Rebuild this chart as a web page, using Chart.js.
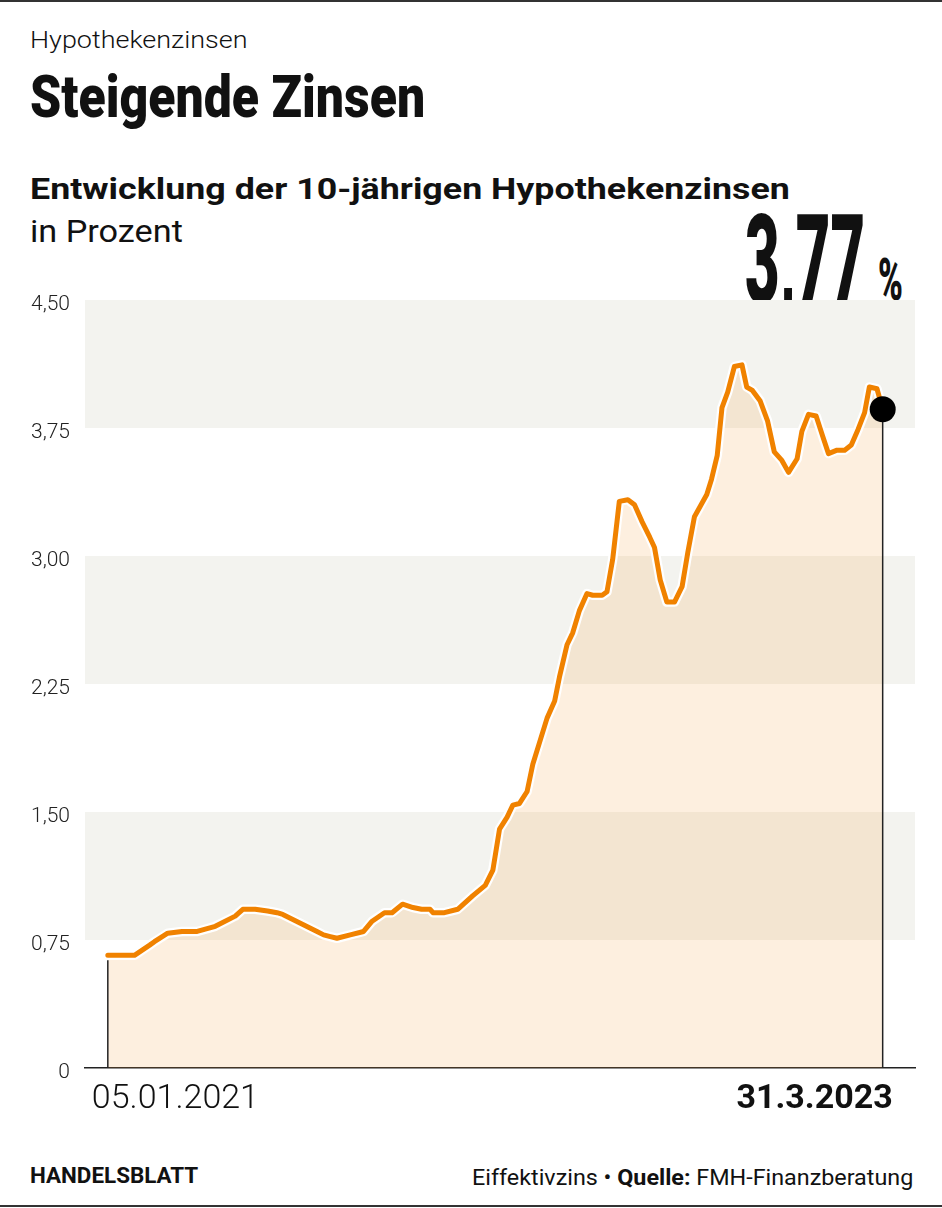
<!DOCTYPE html>
<html>
<head>
<meta charset="utf-8">
<script src="https://cdn.jsdelivr.net/npm/chart.js@4.4.0/dist/chart.umd.min.js"></script>
<style>
  html, body { margin: 0; padding: 0; background: #fff; }
  #page { position: relative; width: 942px; height: 1208px; overflow: hidden; font-family: Roboto, "Noto Sans", sans-serif; color: #111; }
  .rule { position: absolute; left: 0; width: 942px; height: 2px; background: #333; }
  .txt { position: absolute; white-space: nowrap; line-height: 1; transform-origin: 0 0; display: inline-block; }
  #chartWrap { position: absolute; left: 0; top: 280px; width: 942px; height: 860px; }
</style>
</head>
<body>
<div id="page">
  <div class="rule" style="top:0"></div>
  <span class="txt" id="kicker" style="left:30px;top:29px;font-weight:300;font-size:23px">Hypothekenzinsen</span>
  <span class="txt" id="title" style="left:30px;top:67px;font-weight:900;font-size:60px">Steigende Zinsen</span>
  <span class="txt" id="sub" style="left:30px;top:175px;font-weight:700;font-size:29px">Entwicklung der 10-jährigen Hypothekenzinsen</span>
  <span class="txt" id="unit" style="left:30px;top:215px;font-weight:400;font-size:32px">in Prozent</span>
  <span class="txt" id="big" style="left:745px;top:199px;font-weight:900;font-size:124px">3,77</span>
  <span class="txt" id="pct" style="left:878px;top:250px;font-weight:900;font-size:59px">%</span>
  <div id="chartWrap"><canvas id="chart" width="942" height="860"></canvas></div>
  <span class="txt" id="brand" style="left:30px;top:1165px;font-weight:700;font-size:22px">HANDELSBLATT</span>
  <span class="txt" id="source" style="left:472px;top:1167px;font-weight:400;font-size:22px">Eiffektivzins • <b>Quelle:</b> FMH-Finanzberatung</span>
  <div class="rule" style="top:1205px"></div>
</div>
<script>
// Tage seit 05.01.2021
const dayOffsets = [0,28,44,49,63,78,94,113,134,142,
  155,168,178,184,202,220,227,234,241,255,
  269,278,291,299,310,321,330,339,342,354,
  368,384,397,405,412,420,426,433,441,447,
  462,470,475,483,489,496,504,510,520,525,
  531,538,547,554,562,570,575,581,588,596,
  604,610,617,630,635,641,646,652,659,667,
  672,678,686,694,701,709,716,725,730,737,
  745,752,758,767,775,782,789,796,801,809,
  815];
// 10-jährige Hypothekenzinsen in Prozent
const zinsen = [0.66,0.66,0.72,0.74,0.79,0.80,0.80,0.83,0.89,0.93,
  0.93,0.92,0.91,0.90,0.85,0.80,0.78,0.77,0.76,0.78,
  0.80,0.86,0.91,0.91,0.96,0.94,0.93,0.93,0.91,0.91,
  0.93,1.01,1.07,1.16,1.40,1.47,1.54,1.55,1.62,1.78,
  2.05,2.15,2.29,2.48,2.55,2.68,2.78,2.77,2.77,2.79,
  2.98,3.32,3.33,3.30,3.20,3.11,3.05,2.86,2.73,2.73,
  2.82,3.02,3.23,3.36,3.45,3.59,3.87,3.96,4.11,4.12,
  3.99,3.97,3.91,3.79,3.61,3.56,3.49,3.57,3.73,3.83,
  3.82,3.70,3.60,3.62,3.62,3.65,3.74,3.84,3.99,3.98,
  3.86];
const yTicks = [0, 0.75, 1.5, 2.25, 3, 3.75, 4.5];
const yTickLabels = ["0", "0,75", "1,50", "2,25", "3,00", "3,75", "4,50"];
const bands = [[0.75, 1.5], [2.25, 3.0], [3.75, 4.5]];
const xLabels = ["05.01.2021", "31.3.2023"];

function fit(id, w) {
  const el = document.getElementById(id);
  el.style.transform = "scaleX(" + (w / el.offsetWidth) + ")";
}
fit("kicker", 218);
fit("title", 395);
fit("sub", 760);
fit("unit", 153);
fit("big", 120);
fit("pct", 25);
fit("brand", 168);
fit("source", 441);

const points = dayOffsets.map((d, i) => ({ x: d, y: zinsen[i] }));
const last = points.length - 1;

// Hintergrundbänder + senkrechte Linien
const backdrop = {
  id: "backdrop",
  beforeDatasetsDraw(chart) {
    const { ctx, chartArea, scales } = chart;
    ctx.save();
    ctx.fillStyle = "#f3f3ef";
    bands.forEach(([lo, hi]) => {
      const top = scales.y.getPixelForValue(hi);
      const bot = scales.y.getPixelForValue(lo);
      ctx.fillRect(chartArea.left, top, chartArea.right - chartArea.left, bot - top);
    });
    ctx.restore();
  },
  afterDatasetsDraw(chart) {
    const { ctx, scales } = chart;
    const meta = chart.getDatasetMeta(0);
    const base = scales.y.getPixelForValue(0);
    ctx.save();
    ctx.strokeStyle = "#222";
    ctx.lineWidth = 1.5;
    [0, last].forEach(i => {
      const p = meta.data[i];
      ctx.beginPath();
      ctx.moveTo(p.x, i === 0 ? p.y + 5 : p.y);
      ctx.lineTo(p.x, base);
      ctx.stroke();
    });
    // Punkt am Ende
    const e = meta.data[last];
    ctx.fillStyle = "#000";
    ctx.beginPath();
    ctx.arc(e.x, e.y, 13, 0, Math.PI * 2);
    ctx.fill();
    // x-Beschriftung
    ctx.fillStyle = "#111";
    ctx.textBaseline = "alphabetic";
    const y0 = base + 40;
    ctx.font = "300 34px Roboto";
    ctx.textAlign = "left";
    ctx.fillText(xLabels[0], scales.x.getPixelForValue(dayOffsets[0]) - 16, y0);
    ctx.font = "700 34px Roboto";
    ctx.textAlign = "right";
    ctx.fillText(xLabels[1], scales.x.getPixelForValue(dayOffsets[last]) + 10, y0);
    ctx.restore();
  }
};

new Chart(document.getElementById("chart"), {
  type: "line",
  data: {
    datasets: [
      {
        data: points,
        borderColor: "#f08200",
        borderWidth: 5,
        borderJoinStyle: "round",
        borderCapStyle: "round",
        pointRadius: 0,
        fill: false,
        tension: 0
      },
      {
        data: points,
        borderColor: "#ffffff",
        borderWidth: 9.5,
        borderJoinStyle: "round",
        borderCapStyle: "round",
        pointRadius: 0,
        fill: "origin",
        backgroundColor: "rgba(245,155,55,0.16)",
        tension: 0
      }
    ]
  },
  options: {
    responsive: false,
    animation: false,
    devicePixelRatio: 1,
    layout: { padding: { top: 20, right: 27, bottom: 72, left: 0 } },
    plugins: { legend: { display: false }, tooltip: { enabled: false } },
    scales: {
      x: {
        type: "linear",
        min: -24,
        max: 849,
        ticks: { display: false },
        grid: { display: false, drawTicks: false },
        border: { display: true, color: "#222", width: 1.5 },
        afterFit(s) { s.height = 0; s.paddingLeft = 0; s.paddingRight = 0; }
      },
      y: {
        min: 0,
        max: 4.5,
        afterBuildTicks(s) { s.ticks = yTicks.map(v => ({ value: v })); },
        ticks: {
          padding: 15,
          labelOffset: 5,
          color: "#222",
          font: { family: "Roboto", size: 21, weight: 300 },
          callback: (v) => {
            const i = yTicks.findIndex(t => Math.abs(t - v) < 1e-6);
            return i >= 0 ? yTickLabels[i] : "";
          }
        },
        grid: { display: false, drawTicks: false },
        border: { display: false },
        afterFit(s) { s.width = 85; s.paddingTop = 0; s.paddingBottom = 0; }
      }
    }
  },
  plugins: [backdrop]
});
</script>
</body>
</html>
